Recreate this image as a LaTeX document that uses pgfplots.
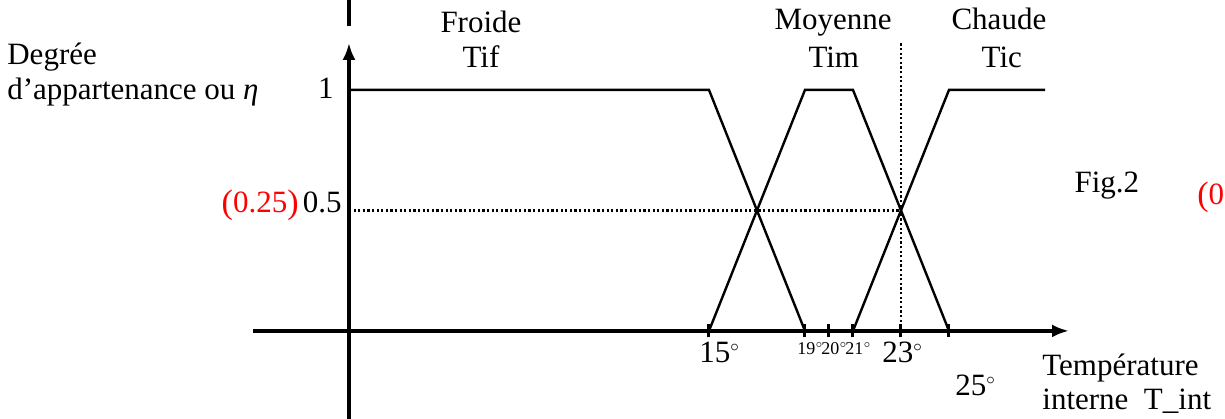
\documentclass[border=0pt]{standalone}
\usepackage{pgfplots}
\pgfplotsset{compat=1.18}
\usepackage{fontspec}
\setmainfont{Liberation Serif}
\usetikzlibrary{arrows.meta}
\newcommand{\mainfs}{\fontsize{15.5}{18}\selectfont}
\newcommand{\smallfs}{\fontsize{9}{10}\selectfont}
\newcommand{\dg}{${}^{\scriptscriptstyle\circ}$}
\begin{document}
\begin{tikzpicture}
\begin{axis}[
  x=12pt, y=120.5pt,
  xmin=-4, xmax=30, ymin=-0.365, ymax=1.195,
  axis lines=middle,
  axis line style={line width=2pt, -{Latex[length=8.5pt,width=6.5pt]}},
  xtick={15,19,20,21,23,25}, xticklabels={},
  ytick=\empty,
  tick style={line width=1.5pt, black},
  major tick length=6.5pt, tick align=center,
  clip=false,
]
% membership functions
\addplot[line width=1.2pt, black] coordinates {(0,1) (15,1) (19,0)};
\addplot[line width=1.2pt, black] coordinates {(15,0) (19,1) (21,1) (25,0)};
\addplot[line width=1.2pt, black] coordinates {(21,0) (25,1) (29,1)};
% dotted guides
\addplot[line width=1.2pt, black, dash pattern=on 1.1pt off 1.2pt] coordinates {(0,0.5) (23,0.5)};
\addplot[line width=1.2pt, black, dash pattern=on 1.1pt off 1.2pt] coordinates {(23,0) (23,1.195)};
% piece of y axis above the arrow
\draw[line width=2pt] (axis cs:0,1.265) -- (axis cs:0,1.38);
% labels
\node[anchor=base west, inner sep=0, font=\mainfs] at (axis cs:-14.25,1.104) {Degrée};
\node[anchor=base west, inner sep=0, font=\mainfs] at (axis cs:-14.25,0.9585) {d’appartenance ou \textit{η}};
\node[anchor=east, inner sep=0, font=\mainfs] at (axis cs:-0.625,1.008) {1};
\node[anchor=base east, inner sep=0, font=\mainfs] at (axis cs:-0.29,0.49) {0.5};
\node[anchor=base east, inner sep=0, font=\mainfs, text=red] at (axis cs:-2.083,0.49) {\raisebox{-0.5pt}{\fontsize{17}{18}\selectfont(}0.25\raisebox{-0.5pt}{\fontsize{17}{18}\selectfont)}};
\node[anchor=base, inner sep=0, font=\mainfs] at (axis cs:5.5,1.237) {Froide};
\node[anchor=base, inner sep=0, font=\mainfs] at (axis cs:5.5,1.095) {Tif};
\node[anchor=base, inner sep=0, font=\mainfs] at (axis cs:20.17,1.249) {Moyenne};
\node[anchor=base, inner sep=0, font=\mainfs] at (axis cs:20.2,1.091) {Tim};
\node[anchor=base, inner sep=0, font=\mainfs] at (axis cs:27.08,1.249) {Chaude};
\node[anchor=base, inner sep=0, font=\mainfs] at (axis cs:27.2,1.091) {Tic};
\node[anchor=base, inner sep=0, font=\mainfs] at (axis cs:31.58,0.573) {Fig.2};
\node[anchor=base west, inner sep=0, font=\mainfs, text=red] at (axis cs:35.33,0.523) {\raisebox{-0.5pt}{\fontsize{17}{18}\selectfont(}0};
\node[anchor=base west, inner sep=0, font=\mainfs] at (axis cs:28.875,-0.183) {Température};
\node[anchor=base west, inner sep=0, font=\mainfs] at (axis cs:28.875,-0.328) {interne\ \ T\_int};
% tick labels
\node[anchor=base west, inner sep=0, font=\mainfs] at (axis cs:14.58,-0.129) {15\dg};
\node[anchor=base west, inner sep=0, font=\smallfs] at (axis cs:18.67,-0.0996) {19\dg};
\node[anchor=base west, inner sep=0, font=\smallfs] at (axis cs:19.67,-0.0996) {20\dg};
\node[anchor=base west, inner sep=0, font=\smallfs] at (axis cs:20.67,-0.0996) {21\dg};
\node[anchor=base west, inner sep=0, font=\mainfs] at (axis cs:22.21,-0.129) {23\dg};
\node[anchor=base west, inner sep=0, font=\mainfs] at (axis cs:25.25,-0.266) {25\dg};
\coordinate (bl) at (axis cs:-14.54,-0.365);
\coordinate (tr) at (axis cs:36.5,1.373);
\end{axis}
\pgfresetboundingbox
\path[use as bounding box] (bl) rectangle (tr);
\end{tikzpicture}
\end{document}
